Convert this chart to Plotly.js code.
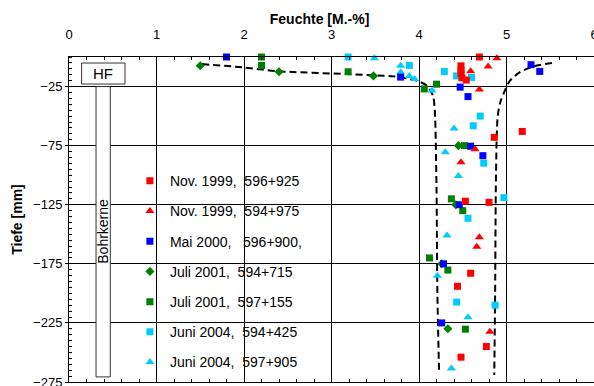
<!DOCTYPE html>
<html>
<head>
<meta charset="utf-8">
<script src="https://cdn.plot.ly/plotly-3.0.1.min.js"></script>
<style>
  html, body { margin: 0; padding: 0; background: #ffffff; }
  #chart { width: 594px; height: 386px; }
</style>
</head>
<body>
<div id="chart"></div>
<script>
// Moisture content (M.-%) against depth (mm) for drill cores

// Nov. 1999, 596+925 (red squares)
const nov99a_x = [4.69, 4.48, 4.48, 4.48, 4.49, 4.54, 5.18, 4.86, 4.53, 4.80, 4.59, 4.44, 4.77, 4.48];
const nov99a_y = [0, -7.5, -11, -14, -17.5, -19.5, -63, -68, -122, -123, -183, -194, -245, -254];

// Nov. 1999, 594+975 (red triangles)
const nov99b_x = [4.89, 4.79, 4.59, 4.69, 4.64, 4.48, 4.69, 4.66, 4.81];
const nov99b_y = [-1, -8, -12, -27.5, -78, -89, -152.5, -160.5, -232.5];

// Mai 2000, 596+900 (blue squares)
const mai00_x = [1.80, 3.79, 4.47, 4.56, 5.28, 5.38, 4.59, 4.73, 4.46, 4.28, 4.26];
const mai00_y = [0, -17, -25.5, -33.5, -6.5, -12.2, -75.5, -83.5, -125, -175, -225];

// Juli 2001, 594+715 (green diamonds)
const jul01a_x = [1.50, 2.40, 3.48, 4.45, 4.42, 4.26, 4.33];
const jul01a_y = [-7.4, -12.5, -16, -75, -125, -175, -230];

// Juli 2001, 597+155 (green squares)
const jul01b_x = [2.20, 2.20, 3.19, 4.06, 4.20, 4.52, 4.37, 4.50, 4.12, 4.33, 4.53];
const jul01b_y = [0, -7.2, -12.5, -27, -23, -75, -120, -130, -170, -180.3, -230.3];

// Juni 2004, 594+425 (sky-blue squares)
const jun04a_x = [3.19, 3.89, 4.29, 4.43, 4.60, 4.70, 4.62, 4.74, 4.97, 4.56, 4.43, 4.87];
const jun04a_y = [0, -7.1, -12.3, -16, -17.3, -50, -58.2, -89.8, -119, -136.5, -207.4, -210];

// Juni 2004, 597+905 (sky-blue triangles)
const jun04b_x = [3.49, 3.79, 3.79, 3.89, 3.95, 4.15, 4.40, 4.30, 4.45, 4.32, 4.21, 4.56, 4.37];
const jun04b_y = [-1, -7.5, -13, -16, -18.6, -28.3, -60.5, -80.5, -100.6, -151, -185, -220.3, -263.6];

// Envelope curves (dashed)
const envLeft_x = [1.52, 1.99, 2.39, 3.17, 3.48, 3.71, 3.97, 4.09, 4.16, 4.18, 4.20, 4.21, 4.23];
const envLeft_y = [-6, -8.8, -12, -14.4, -15.6, -16.4, -20, -24.3, -33, -45, -110, -200, -268];
const envRight_x = [5.52, 5.30, 5.15, 5.04, 4.99, 4.93, 4.90, 4.88, 4.87, 4.86];
const envRight_y = [-5, -8.2, -13, -20, -27, -38, -50, -100, -200, -269];

// Axis ticks
const xTicks = [0, 1, 2, 3, 4, 5, 6];
const yTicks = [-25, -75, -125, -175, -225, -275];

// Series labels
const seriesNames = [
  'Nov. 1999,\u00a0 596+925',
  'Nov. 1999,\u00a0 594+975',
  'Mai 2000,\u00a0\u00a0 596+900,',
  'Juli 2001,\u00a0 594+715',
  'Juli 2001,\u00a0 597+155',
  'Juni 2004,\u00a0 594+425',
  'Juni 2004,\u00a0 597+905'
];

const FONT = 'Arial, "Liberation Sans", sans-serif';
const RED = '#ff0000', BLUE = '#0000ff', GREEN = '#008000', SKY = '#00ccff';

function envelope(xs, ys) {
  return {
    x: xs, y: ys, type: 'scatter', mode: 'lines',
    line: { color: '#000000', width: 2, dash: '7px,4px', shape: 'spline', smoothing: 0.8 },
    hoverinfo: 'skip', showlegend: false, cliponaxis: false
  };
}

function series(xs, ys, idx, color, symbol, size) {
  return {
    x: xs, y: ys, name: seriesNames[idx], type: 'scatter', mode: 'markers',
    legendgroup: 'g' + idx, legendrank: idx + 1, cliponaxis: false,
    marker: { color: color, symbol: symbol, size: size, line: { width: 0 } }
  };
}

// drawn back to front; legendrank keeps the legend in Nov. 1999 ... Juni 2004 order
const data = [
  envelope(envLeft_x, envLeft_y),
  envelope(envRight_x, envRight_y),
  series(jun04b_x, jun04b_y, 6, SKY, 'triangle-up', 8),
  series(jun04a_x, jun04a_y, 5, SKY, 'square', 7),
  series(jul01b_x, jul01b_y, 4, GREEN, 'square', 7),
  series(jul01a_x, jul01a_y, 3, GREEN, 'diamond', 7),
  series(mai00_x, mai00_y, 2, BLUE, 'square', 7),
  series(nov99b_x, nov99b_y, 1, RED, 'triangle-up', 8),
  series(nov99a_x, nov99a_y, 0, RED, 'square', 7)
];

const layout = {
  width: 594, height: 386,
  margin: { l: 69, r: 0, t: 57, b: 4 },
  paper_bgcolor: '#ffffff', plot_bgcolor: '#ffffff',
  font: { family: FONT, size: 13, color: '#000000' },
  title: {
    text: '<b>Feuchte [M.-%]</b>',
    font: { family: FONT, size: 14, color: '#000000' },
    xref: 'container', x: 0.538, xanchor: 'center',
    yref: 'container', y: 0.95, yanchor: 'middle'
  },
  xaxis: {
    side: 'top', range: [0, 6], tickmode: 'array', tickvals: xTicks,
    ticks: 'inside', ticklen: 4, tickwidth: 1, tickcolor: '#000000',
    ticklabelstandoff: 12, ticklabeloverflow: 'allow',
    showline: true, linecolor: '#000000', linewidth: 1, mirror: 'ticks',
    showgrid: true, gridcolor: '#000000', gridwidth: 1, zeroline: false,
    minor: { tickmode: 'linear', tick0: 0, dtick: 0.2, ticks: 'inside', ticklen: 3, tickcolor: '#000000', showgrid: false },
    tickfont: { family: FONT, size: 13, color: '#000000' },
    fixedrange: true
  },
  yaxis: {
    range: [-275, 0], tickmode: 'array', tickvals: yTicks,
    ticks: 'outside', ticklen: 3, tickwidth: 1, tickcolor: '#000000',
    ticklabeloverflow: 'allow',
    showline: true, linecolor: '#000000', linewidth: 1, mirror: true,
    showgrid: true, gridcolor: '#000000', gridwidth: 1, zeroline: false,
    minor: { tickmode: 'linear', tick0: 0, dtick: 5, ticks: 'inside', ticklen: 3, tickcolor: '#000000', showgrid: false },
    tickfont: { family: FONT, size: 13, color: '#000000' },
    title: { text: '<b>Tiefe [mm]</b>', font: { family: FONT, size: 14, color: '#000000' }, standoff: 7 },
    automargin: false,
    fixedrange: true
  },
  showlegend: true,
  legend: {
    x: 0.116, xanchor: 'left', y: 0.667, yanchor: 'top',
    bgcolor: 'rgba(0,0,0,0)', borderwidth: 0,
    font: { family: FONT, size: 14, color: '#000000' },
    traceorder: 'grouped', tracegroupgap: 9
  },
  shapes: [
    // white panel behind the legend
    { type: 'rect', xref: 'paper', yref: 'paper', x0: 0.143, x1: 0.486, y0: 0.012, y1: 0.670,
      fillcolor: '#ffffff', line: { width: 0 }, layer: 'between' },
    // HF label box
    { type: 'rect', xref: 'x', yref: 'y', x0: 0.144, x1: 0.64, y0: -5.1, y1: -22.9,
      fillcolor: '#ffffff', line: { color: '#333333', width: 1 }, layer: 'above' },
    // drill core column
    { type: 'rect', xref: 'x', yref: 'y', x0: 0.309, x1: 0.472, y0: -25, y1: -270.7,
      fillcolor: '#ffffff', line: { color: '#333333', width: 1 }, layer: 'above' }
  ],
  annotations: [
    { text: 'HF', xref: 'x', yref: 'y', x: 0.392, y: -14, showarrow: false,
      font: { family: FONT, size: 15, color: '#000000' } },
    { text: 'Bohrkerne', xref: 'x', yref: 'y', x: 0.392, y: -147.6, showarrow: false, textangle: -90,
      font: { family: FONT, size: 14, color: '#000000' } }
  ]
};

Plotly.newPlot('chart', data, layout, { displayModeBar: false, staticPlot: true });
</script>
</body>
</html>
